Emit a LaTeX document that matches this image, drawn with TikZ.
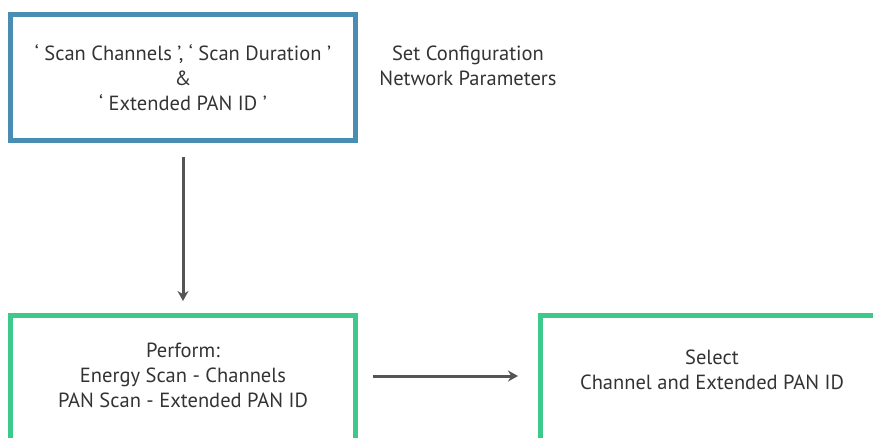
\documentclass[tikz,border=0pt]{standalone}
\usepackage{fontspec}
\setmainfont{PT Sans}
\usetikzlibrary{arrows.meta}
\definecolor{boxblue}{HTML}{4A8DB3}
\definecolor{boxgreen}{HTML}{3DC98A}
\definecolor{arrowgray}{HTML}{555555}
\definecolor{txt}{HTML}{333333}
\tikzset{
  box/.style={draw, line width=5pt, minimum width=345pt, inner sep=0pt, text=txt, align=center,
    font=\fontsize{20.5}{25}\selectfont},
  bluebox/.style={box, draw=boxblue, minimum height=126pt},
  greenbox/.style={box, draw=boxgreen, minimum height=140pt},
  plain/.style={text=txt, align=center, font=\fontsize{20.5}{25}\selectfont, inner sep=0pt},
  flow/.style={draw=arrowgray, line width=3pt, -{Stealth[length=10pt,width=11pt]}}
}
\begin{document}
\begin{tikzpicture}[x=1pt,y=-1pt]
\useasboundingbox (0,0) rectangle (873,437);
\clip (0,0) rectangle (873,437);
\node[bluebox] (cfg) at (183,77.5) {‘ Scan Channels ’, ‘ Scan Duration ’\\ \&\\ ‘ Extended PAN ID ’};
\node[plain] (note) at (468,65.5) {Set Configuration\\Network Parameters};
\node[greenbox] (scan) at (183,385.5) {};
\node[plain] (scantxt) at (183,375) {Perform:\\Energy Scan - Channels\\PAN Scan - Extended PAN ID};
\node[greenbox] (sel) at (713,385.5) {};
\node[plain] (seltxt) at (712,369.5) {Select\\Channel and Extended PAN ID};
\draw[flow, shorten <=14pt, shorten >=12pt] (cfg.south -| 183,0) -- (scan.north -| 183,0);
\draw[flow, shorten <=15pt, shorten >=20pt] (scan.east |- 0,376) -- (sel.west |- 0,376);
\end{tikzpicture}
\end{document}
